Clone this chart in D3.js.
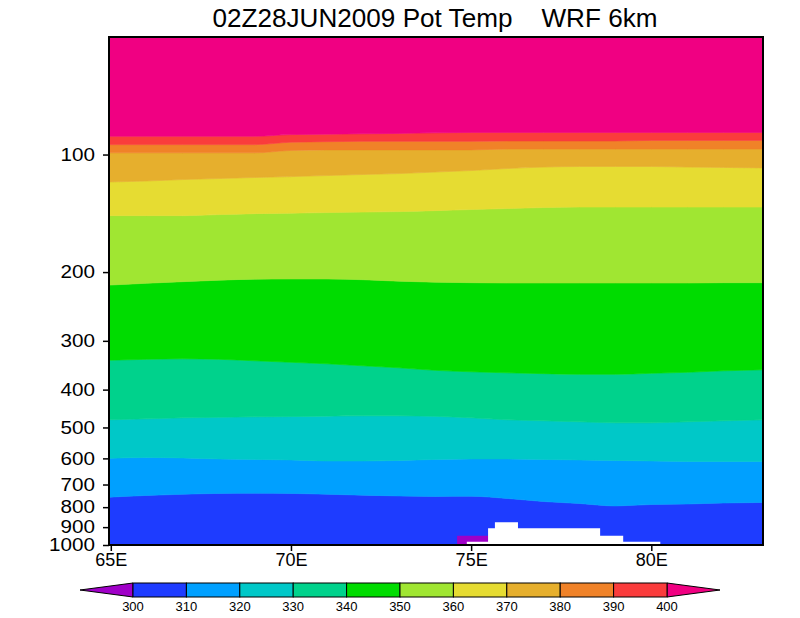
<!DOCTYPE html>
<html><head><meta charset="utf-8">
<script src="https://cdn.jsdelivr.net/npm/d3@7"></script>
<style>body{margin:0;background:#fff} svg{display:block} text{white-space:pre}</style>
</head><body><svg id="c" width="800" height="618"></svg>
<script>
// ---- data (pressure in hPa of each isentrope, by longitude) ----
const lons   = [64.9,66,67,68,69,70,71,72,73,74,75,76,77,78,79,80,81,82,83.1];
const th310  = [754.6,746.6,741.3,737.8,737.0,737.8,741.3,745.3,748.8,751.0,750.1,760.0,773.6,782.8,794.3,787.5,785.2,780.6,778.3];
const th320  = [600.1,596.6,598.4,601.9,603.7,605.5,609.1,609.1,607.3,603.7,601.9,601.9,603.7,605.5,607.3,609.1,610.9,610.9,610.9];
const th330  = [478.0,475.2,472.4,471.0,469.6,468.8,467.7,466.9,466.9,468.3,472.4,478.0,480.8,483.7,486.5,486.5,483.7,480.8,478.0];
const th340  = [336.5,334.5,333.5,334.5,337.5,340.5,343.5,347.6,351.7,357.0,360.1,362.3,364.0,365.5,365.5,363.3,361.2,358.0,355.9];
const th350  = [216.1,213.6,211.6,209.8,208.5,208.3,208.3,209.2,211.0,212.3,212.9,213.3,213.3,213.3,213.3,213.3,213.3,212.9,212.9];
const th360  = [143.4,143.4,143.4,142.5,141.7,141.3,140.8,140.4,140.0,139.2,138.3,137.5,136.7,136.3,136.3,136.3,136.3,136.3,136.3];
const th370  = [117.6,116.9,115.9,115.2,114.5,113.9,113.2,112.5,111.9,110.9,109.9,108.6,107.7,107.3,107.3,107.3,107.7,107.9,108.2];
const th380  = [99.0,99.0,99.0,99.0,99.0,97.6,97.3,97.3,97.3,97.3,97.3,96.8,96.8,96.8,96.8,96.8,96.8,96.8,96.8];
const th390  = [94.3,94.3,94.3,94.3,94.3,93.0,92.7,92.5,92.5,92.5,92.5,92.3,92.3,92.3,92.3,92.0,92.0,92.0,92.0];
const th400  = [89.8,89.8,89.8,89.8,89.8,88.9,88.7,88.5,88.3,88.0,87.8,87.8,87.8,87.8,87.8,87.8,87.8,87.8,87.8];
// below-ground (no data) and sub-300K pocket
const terrLon = [74.88,75.47,75.66,76.30,78.58,79.22,80.25];
const terrP   = [981,906,875,906,947,981,1000];
const coldLon = [74.61,75.47];
const coldP   = [947,947];
// contour levels & colours
const levels  = [300,310,320,330,340,350,360,370,380,390,400];
const colors  = ["#a000c8","#1e3cff","#00a0ff","#00c8c8","#00d28c","#00dc00","#a0e632","#e6dc32","#e6af2d","#f08228","#fa3c3c","#f00082"];
const pTicks  = [100,200,300,400,500,600,700,800,900,1000];
const lonTicks= [65,70,75,80];
const title   = "02Z28JUN2009 Pot Temp    WRF 6km";

const FONT = "'Liberation Sans', Arial, sans-serif";
const svg = d3.select("#c");
const x = d3.scaleLinear().domain([64.95,83.1]).range([109,763]);
const y = d3.scaleLog().domain([1000,50]).range([545,37]);
const pTop = 50, pBot = 1000;

svg.append("defs").append("clipPath").attr("id","clip")
  .append("rect").attr("x",109).attr("y",37).attr("width",654).attr("height",508);
const g = svg.append("g").attr("clip-path","url(#clip)");

const bounds = [th310,th320,th330,th340,th350,th360,th370,th380,th390,th400];
const bandArea = d3.area().x(d=>x(d.lon)).y0(d=>y(d.lo)).y1(d=>y(d.hi)).curve(d3.curveMonotoneX);
for (let i=0;i<=bounds.length;i++){
  const lo = i===0 ? lons.map(()=>pBot) : bounds[i-1];
  const hi = i===bounds.length ? lons.map(()=>pTop) : bounds[i];
  const data = lons.map((l,j)=>({lon:l,lo:lo[j],hi:hi[j]}));
  g.append("path").datum(data).attr("d",bandArea).attr("fill",colors[i+1]).attr("stroke",colors[i+1]).attr("stroke-width",0.6);
}
const stepArea = d3.area().x(d=>x(d.lon)).y0(()=>y(pBot)).y1(d=>y(d.p)).curve(d3.curveStepAfter);
g.append("path").datum(coldLon.map((l,j)=>({lon:l,p:coldP[j]}))).attr("d",stepArea).attr("fill",colors[0]);
g.append("path").datum(terrLon.map((l,j)=>({lon:l,p:terrP[j]}))).attr("d",stepArea).attr("fill","#fff");

// frame
svg.append("rect").attr("x",109).attr("y",37).attr("width",654).attr("height",508)
  .attr("fill","none").attr("stroke","#000").attr("stroke-width",2);

// axes
const ya = svg.append("g").attr("transform","translate(109,0)")
  .call(d3.axisLeft(y).tickValues(pTicks).tickFormat(d3.format("d")).tickSize(6).tickPadding(8));
ya.select(".domain").remove();
ya.selectAll("text").attr("font-family",FONT).attr("font-size",18).attr("fill","#000")
  .attr("textLength",d=>String(d).length*11.5).attr("lengthAdjust","spacingAndGlyphs");
ya.selectAll("line").attr("stroke","#000").attr("stroke-width",1.5);

const xa = svg.append("g").attr("transform","translate(0,545)")
  .call(d3.axisBottom(x).tickValues(lonTicks).tickFormat(d=>d+"E").tickSize(6).tickPadding(2));
xa.select(".domain").remove();
xa.selectAll("text").attr("font-family",FONT).attr("font-size",18).attr("fill","#000");
xa.selectAll("line").attr("stroke","#000").attr("stroke-width",1.5);

// title
svg.append("text").attr("x",435).attr("y",27).attr("text-anchor","middle")
  .attr("font-family",FONT).attr("font-size",25).attr("textLength",445).attr("lengthAdjust","spacingAndGlyphs")
  .text(title);

// colour bar
const cb = d3.scaleLinear().domain([300,400]).range([133,667]);
const cy0 = 583, cy1 = 597, cym = (cy0+cy1)/2;
const cbg = svg.append("g");
cbg.append("path").attr("d",`M${cb(300)},${cy0}L80,${cym}L${cb(300)},${cy1}Z`).attr("fill",colors[0]).attr("stroke","#000").attr("stroke-width",1);
cbg.append("path").attr("d",`M${cb(400)},${cy0}L720,${cym}L${cb(400)},${cy1}Z`).attr("fill",colors[11]).attr("stroke","#000").attr("stroke-width",1);
for (let i=0;i<levels.length-1;i++){
  cbg.append("rect").attr("x",cb(levels[i])).attr("y",cy0).attr("width",cb(levels[i+1])-cb(levels[i])).attr("height",cy1-cy0)
    .attr("fill",colors[i+1]).attr("stroke","#000").attr("stroke-width",1);
}
cbg.selectAll("text.l").data(levels).enter().append("text").attr("class","l")
  .attr("x",d=>cb(d)).attr("y",611).attr("text-anchor","middle")
  .attr("font-family",FONT).attr("font-size",13).text(d=>d);
</script></body></html>
